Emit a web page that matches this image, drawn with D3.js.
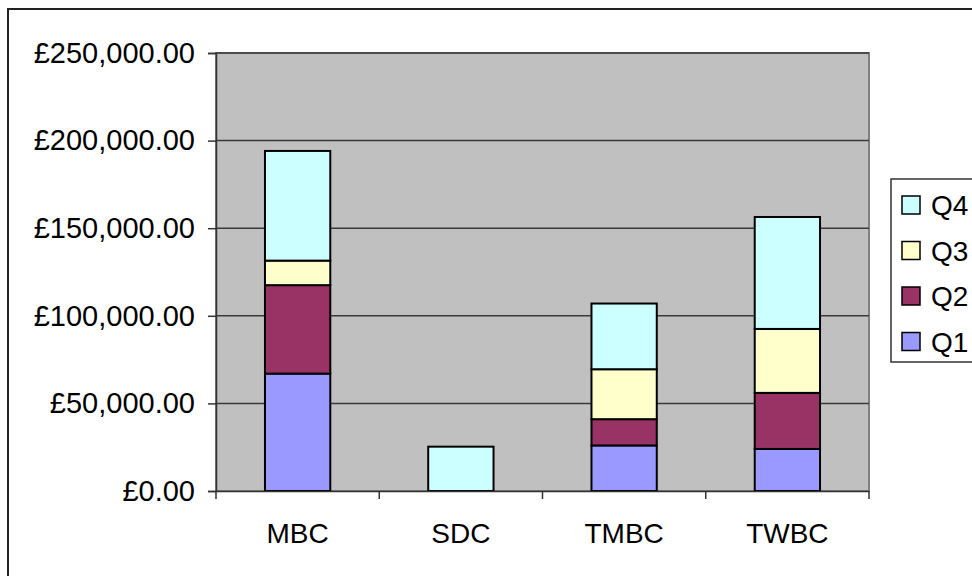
<!DOCTYPE html>
<html>
<head>
<meta charset="utf-8">
<script src="https://cdn.jsdelivr.net/npm/d3@7"></script>
<style>
  html, body { margin: 0; padding: 0; background: #fff; }
  svg { display: block; }
</style>
</head>
<body>
<div class="chart-container"></div>
<script>
// data
const categories = ['MBC', 'SDC', 'TMBC', 'TWBC'];
const seriesNames = ['Q1', 'Q2', 'Q3', 'Q4'];
const q1 = [67000, 0, 26000, 24000];
const q2 = [50500, 0, 15000, 32000];
const q3 = [14000, 0, 28500, 36500];
const q4 = [62600, 25300, 37500, 63900];
const yTicks = [0, 50000, 100000, 150000, 200000, 250000];

const width = 972;
const height = 576;

// plot area
const plot = { left: 216, right: 869, top: 53, bottom: 491 };

const color = d3.scaleOrdinal()
  .domain(seriesNames)
  .range(['#9999FF', '#993366', '#FFFFCC', '#CCFFFF']);

const rows = categories.map((c, i) => ({ cat: c, Q1: q1[i], Q2: q2[i], Q3: q3[i], Q4: q4[i] }));
const stacked = d3.stack().keys(seriesNames)(rows);

const x = d3.scaleBand()
  .domain(categories)
  .range([plot.left, plot.right])
  .paddingInner(0.6)
  .paddingOuter(0.3);

const y = d3.scaleLinear()
  .domain([0, 250000])
  .range([plot.bottom, plot.top]);

const svg = d3.select('.chart-container')
  .append('svg')
  .attr('width', width)
  .attr('height', height)
  .attr('font-family', '"Liberation Sans", Arial, sans-serif');

// outer chart border (runs off the right/bottom edges)
svg.append('rect')
  .attr('x', 8).attr('y', 9)
  .attr('width', 1000).attr('height', 600)
  .attr('fill', '#fff')
  .attr('stroke', '#222')
  .attr('stroke-width', 2);

// plot background
svg.append('rect')
  .attr('x', plot.left).attr('y', plot.top)
  .attr('width', plot.right - plot.left)
  .attr('height', plot.bottom - plot.top)
  .attr('fill', '#C0C0C0')
  .attr('stroke', '#808080')
  .attr('stroke-width', 2);

// gridlines
svg.append('g')
  .selectAll('line')
  .data(yTicks.filter(d => d > 0))
  .join('line')
    .attr('x1', plot.left).attr('x2', plot.right)
    .attr('y1', d => y(d)).attr('y2', d => y(d))
    .attr('stroke', '#3a3a3a')
    .attr('stroke-width', 1.5);

// bars
svg.append('g')
  .selectAll('g')
  .data(stacked)
  .join('g')
    .attr('fill', d => color(d.key))
  .selectAll('rect')
  .data(d => d.filter(s => s[1] - s[0] > 0))
  .join('rect')
    .attr('x', d => x(d.data.cat))
    .attr('y', d => y(d[1]))
    .attr('width', x.bandwidth())
    .attr('height', d => y(d[0]) - y(d[1]))
    .attr('stroke', '#000')
    .attr('stroke-width', 2);

// y axis
const yAxis = svg.append('g')
  .attr('transform', `translate(${plot.left},0)`)
  .call(d3.axisLeft(y)
    .tickValues(yTicks)
    .tickSize(8)
    .tickPadding(13)
    .tickFormat(d => '£' + d3.format(',.2f')(d)));

// x axis
const xAxis = svg.append('g')
  .attr('transform', `translate(0,${plot.bottom})`)
  .call(d3.axisBottom(x).tickSize(0).tickPadding(32));

// category boundary ticks like Excel
const bounds = d3.range(categories.length + 1)
  .map(i => plot.left + i * (plot.right - plot.left) / categories.length);
svg.append('g')
  .selectAll('line')
  .data(bounds)
  .join('line')
    .attr('x1', d => d).attr('x2', d => d)
    .attr('y1', plot.bottom).attr('y2', plot.bottom + 8)
    .attr('stroke', '#333')
    .attr('stroke-width', 1.5);

[yAxis, xAxis].forEach(a => {
  a.select('.domain').attr('stroke', '#333').attr('stroke-width', 1.5);
  a.selectAll('.tick line').attr('stroke', '#333').attr('stroke-width', 1.5);
  a.selectAll('text')
    .attr('font-size', '28px')
    .attr('font-family', '"Liberation Sans", Arial, sans-serif')
    .attr('fill', '#000');
});
yAxis.selectAll('text').attr('font-size', '29px');
xAxis.selectAll('text').attr('dy', '0.71em');

// legend (Q4 on top)
const legend = svg.append('g');
legend.append('rect')
  .attr('x', 891).attr('y', 179)
  .attr('width', 120).attr('height', 183)
  .attr('fill', '#fff')
  .attr('stroke', '#333')
  .attr('stroke-width', 1.5);

const legendItems = seriesNames.slice().reverse();
const item = legend.selectAll('g.item')
  .data(legendItems)
  .join('g')
    .attr('class', 'item')
    .attr('transform', (d, i) => `translate(902,${205 + i * 45.5})`);

item.append('rect')
  .attr('x', 0).attr('y', -9)
  .attr('width', 18).attr('height', 18)
  .attr('fill', d => color(d))
  .attr('stroke', '#000')
  .attr('stroke-width', 1.5);

item.append('text')
  .attr('x', 29)
  .attr('y', 0)
  .attr('dy', '0.36em')
  .attr('font-size', '28px')
  .text(d => d);
</script>
</body>
</html>
